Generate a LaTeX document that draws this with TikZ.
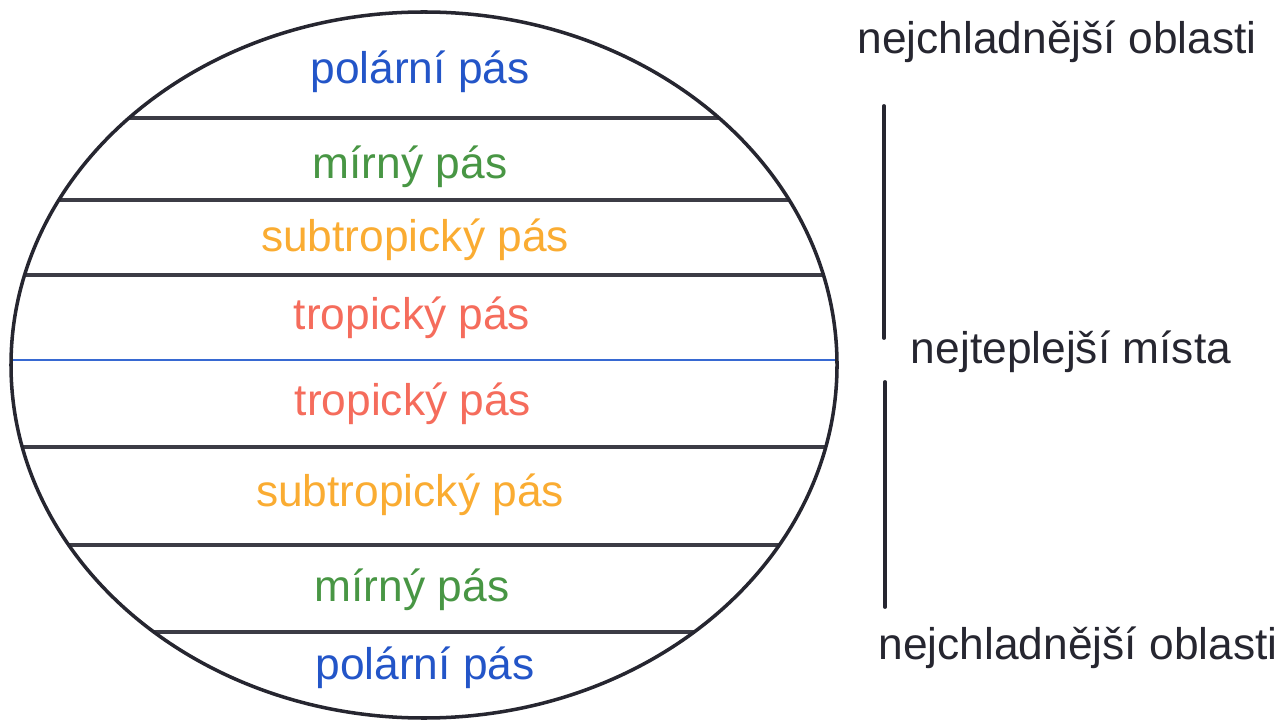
\documentclass[tikz,border=0pt]{standalone}
\usepackage{fontspec}
\setmainfont{Liberation Sans}
\usepackage{tikz}
\usetikzlibrary{positioning}
\definecolor{polarblue}{RGB}{35,85,200}
\definecolor{mirnygreen}{RGB}{72,150,68}
\definecolor{subtroporange}{RGB}{250,172,50}
\definecolor{tropred}{RGB}{245,108,92}
\definecolor{equatorblue}{RGB}{55,105,210}
\definecolor{inkgray}{RGB}{38,38,48}

\begin{document}
\begin{tikzpicture}[
  x=0.01cm, y=-0.01cm,
  zone/.style={font=\fontsize{12.6}{15}\selectfont, inner sep=0pt},
  side/.style={font=\fontsize{12.6}{15}\selectfont, inner sep=0pt, text=inkgray},
  belt/.style={draw=inkgray!90, line width=1.2pt},
  bar/.style={draw=inkgray, line width=1.1pt, line cap=round}
]
\useasboundingbox (0,0) rectangle (1283,722);

% Globe outline and belt lines
\begin{scope}
  \clip (424,365) ellipse [x radius=413, y radius=353];
  \foreach \yy in {118,200,275,447,545,632}
    \draw[belt] (0,\yy) -- (850,\yy);
  \draw[equatorblue, line width=0.8pt] (0,360) -- (850,360);
\end{scope}
\draw[inkgray, line width=1pt] (424,365) ellipse [x radius=413, y radius=353];

% Belt labels
\node[zone, text=polarblue] (polar1) at (420,72) {polární pás};
\node[zone, text=mirnygreen] (mirny1) at (410,167) {mírný pás};
\node[zone, text=subtroporange] (subtrop1) at (415,240) {subtropický pás};
\node[zone, text=tropred] (trop1) at (412,318) {tropický pás};
\node[zone, text=tropred] (trop2) at (413,404) {tropický pás};
\node[zone, text=subtroporange] (subtrop2) at (410,495) {subtropický pás};
\node[zone, text=mirnygreen] (mirny2) at (412,590) {mírný pás};
\node[zone, text=polarblue] (polar2) at (425,668) {polární pás};

% Right side
\node[side] (cold1) at (1057,42) {nejchladnější oblasti};
\node[side] (warm) at (1071,352) {nejteplejší místa};
\node[side] (cold2) at (1078,648) {nejchladnější oblasti};

\coordinate (bartop) at (884,106);
\coordinate (barmidA) at (884,338);
\coordinate (barmidB) at (885,382);
\coordinate (barbot) at (885,607);
\draw[bar] (bartop) -- (barmidA);
\draw[bar] (barmidB) -- (barbot);
\end{tikzpicture}
\end{document}
